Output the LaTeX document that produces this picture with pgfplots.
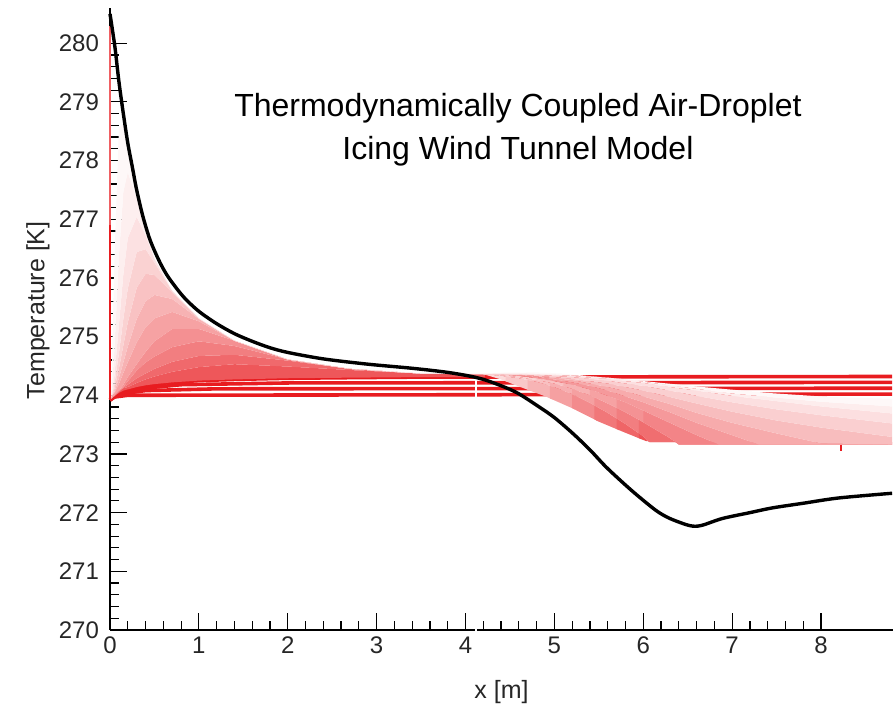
\documentclass[border=0pt]{standalone}
\usepackage{pgfplots}
\pgfplotsset{compat=1.18}
\usepgfplotslibrary{fillbetween}
\usepackage{fontspec}
\setmainfont{Liberation Sans}
\definecolor{dred}{RGB}{232,28,32}

\begin{document}
\begin{tikzpicture}
\begin{axis}[
    scale only axis,
    width=391.5pt, height=311pt,
    xmin=0, xmax=8.81,
    ymin=270, ymax=280.6,
    axis x line=bottom, axis y line=left,
    axis line style={-, line width=0.75pt},
    xtick={0,1,2,3,4,5,6,7,8},
    ytick={270,271,272,273,274,275,276,277,278,279,280},
    minor x tick num=4, minor y tick num=4,
    tick align=inside,
    major tick length=8.5pt, minor tick length=4.5pt,
    tick style={black, line width=0.6pt},
    ticklabel style={font=\fontsize{12}{14}\selectfont, text=black!85},
    yticklabel style={xshift=-2pt},
    /pgf/number format/assume math mode=true,
    /pgf/number format/1000 sep={},
    xlabel={x [m]}, ylabel={Temperature [K]},
    label style={font=\fontsize{12.5}{15}\selectfont, text=black!85},
    xlabel style={at={(axis description cs:0.5,-0.1)}, anchor=center},
    ylabel style={at={(axis description cs:-0.092,0.514)}, anchor=center},
    clip=false,
]

% deep red droplet lines
\addplot[dred, line width=1.8pt] coordinates {(0,273.92)(0.05,273.97)(0.2,274.0)(8.8,274.02)};
\addplot[dred, line width=1.8pt] coordinates {(0,273.92)(0.1,274.02)(0.4,274.08)(1.2,274.11)(8.8,274.12)};
\addplot[dred, line width=1.8pt] coordinates {(0,273.92)(0.1,274.03)(0.3,274.11)(0.8,274.18)(2,274.21)(8.8,274.22)};
\addplot[dred, line width=1.8pt, name path=l4] coordinates {(0,273.92)(0.02,273.95)(0.05,273.99)(0.1,274.04)(0.15,274.08)(0.2,274.10)(0.3,274.14)(0.4,274.17)(0.5,274.19)(0.7,274.22)(1.0,274.25)(1.4,274.27)(2.0,274.29)(2.7,274.30)(3.5,274.31)(8.8,274.32)};

% droplet family, darkest (c1) to lightest (c11)
\addplot[draw=none, name path=c1] coordinates {(0,273.92)(0.02,273.95)(0.05,273.99)(0.1,274.05)(0.15,274.12)(0.2,274.14)(0.3,274.21)(0.4,274.27)(0.5,274.32)(0.7,274.40)(1.0,274.48)(1.4,274.53)(2.0,274.49)(2.7,274.43)(3.5,274.37)(4.2,274.36)(4.4,274.27)(4.6,274.15)(4.9,273.98)(5.2,273.78)(5.5,273.55)(5.8,273.36)(6.03,273.22)(8.8,273.2)};
\addplot[draw=none, name path=c2] coordinates {(0,273.92)(0.02,273.95)(0.05,273.99)(0.1,274.05)(0.15,274.13)(0.2,274.18)(0.3,274.29)(0.4,274.37)(0.5,274.45)(0.7,274.57)(1.0,274.67)(1.4,274.69)(2.0,274.59)(2.7,274.45)(3.5,274.37)(4.2,274.36)(4.4,274.33)(4.6,274.29)(4.8,274.23)(5.0,274.14)(5.2,274.02)(5.4,273.87)(5.6,273.70)(5.8,273.51)(6.0,273.30)(6.07,273.2)(8.8,273.2)};
\addplot[draw=none, name path=c3] coordinates {(0,273.92)(0.02,273.95)(0.05,273.99)(0.1,274.06)(0.15,274.14)(0.2,274.24)(0.3,274.42)(0.4,274.56)(0.5,274.66)(0.7,274.82)(1.0,274.92)(1.4,274.84)(2.0,274.61)(2.7,274.45)(3.5,274.37)(4.2,274.36)(4.4,274.34)(4.6,274.31)(4.8,274.26)(5.0,274.20)(5.2,274.11)(5.4,274.0)(5.6,273.86)(5.8,273.71)(6.0,273.54)(6.3,273.27)(6.4,273.16)(8.8,273.16)};
\addplot[draw=none, name path=c4] coordinates {(0,273.92)(0.02,273.95)(0.05,273.99)(0.1,274.07)(0.15,274.18)(0.2,274.31)(0.3,274.53)(0.4,274.74)(0.5,274.92)(0.7,275.13)(1.0,275.13)(1.4,274.93)(2.0,274.61)(2.7,274.45)(3.5,274.37)(4.2,274.36)(4.4,274.35)(4.6,274.33)(4.8,274.29)(5.0,274.24)(5.2,274.18)(5.4,274.10)(5.6,273.99)(5.8,273.88)(6.0,273.74)(6.3,273.53)(6.6,273.32)(6.85,273.16)(8.8,273.16)};
\addplot[draw=none, name path=c5] coordinates {(0,273.92)(0.02,273.96)(0.05,274.04)(0.1,274.19)(0.15,274.38)(0.2,274.56)(0.3,274.90)(0.4,275.16)(0.5,275.31)(0.7,275.42)(1.0,275.26)(1.4,274.93)(2.0,274.61)(2.7,274.45)(3.5,274.37)(4.2,274.36)(4.4,274.35)(4.6,274.33)(4.8,274.31)(5.0,274.27)(5.2,274.22)(5.4,274.16)(5.6,274.08)(5.8,273.98)(6.0,273.88)(6.3,273.71)(6.6,273.53)(7.0,273.32)(7.3,273.16)(8.8,273.16)};
\addplot[draw=none, name path=c6] coordinates {(0,273.92)(0.02,273.96)(0.05,274.06)(0.1,274.29)(0.15,274.56)(0.2,274.83)(0.3,275.30)(0.4,275.60)(0.5,275.71)(0.7,275.64)(1.0,275.30)(1.4,274.93)(2.0,274.61)(2.7,274.45)(3.5,274.37)(4.2,274.36)(4.4,274.35)(4.6,274.34)(4.8,274.32)(5.0,274.29)(5.2,274.26)(5.4,274.20)(5.6,274.14)(5.8,274.07)(6.0,273.98)(6.3,273.85)(6.6,273.70)(7.0,273.53)(7.5,273.35)(8.0,273.18)(8.8,273.16)};
\addplot[draw=none, name path=c7] coordinates {(0,273.92)(0.02,273.97)(0.05,274.11)(0.1,274.45)(0.15,274.85)(0.2,275.24)(0.3,275.83)(0.4,276.07)(0.5,276.05)(0.7,275.75)(1.0,275.31)(1.4,274.93)(2.0,274.61)(2.7,274.45)(3.5,274.37)(4.2,274.36)(4.4,274.36)(4.6,274.35)(4.8,274.33)(5.0,274.31)(5.2,274.28)(5.4,274.24)(5.6,274.20)(5.8,274.14)(6.0,274.08)(6.3,273.97)(6.6,273.86)(7.0,273.72)(7.5,273.57)(8.0,273.45)(8.8,273.29)};
\addplot[draw=none, name path=c8] coordinates {(0,273.92)(0.02,273.98)(0.05,274.19)(0.1,274.71)(0.15,275.30)(0.2,275.82)(0.3,276.44)(0.4,276.49)(0.5,276.26)(0.7,275.78)(1.0,275.31)(1.4,274.93)(2.0,274.61)(2.7,274.45)(3.5,274.37)(4.2,274.36)(4.4,274.36)(4.6,274.36)(4.8,274.35)(5.0,274.33)(5.2,274.31)(5.4,274.28)(5.6,274.25)(5.8,274.20)(6.0,274.16)(6.3,274.08)(6.6,273.99)(7.0,273.88)(7.5,273.76)(8.0,273.66)(8.8,273.52)};
\addplot[draw=none, name path=c9] coordinates {(0,273.92)(0.02,274.01)(0.05,274.34)(0.1,275.19)(0.15,276.06)(0.2,276.68)(0.3,277.04)(0.4,276.73)(0.5,276.33)(0.7,275.78)(1.0,275.31)(1.4,274.93)(2.0,274.61)(2.7,274.45)(3.5,274.37)(4.2,274.36)(4.4,274.37)(4.6,274.37)(4.8,274.36)(5.0,274.35)(5.2,274.33)(5.4,274.30)(5.6,274.28)(5.8,274.24)(6.0,274.21)(6.3,274.14)(6.6,274.08)(7.0,273.99)(7.5,273.90)(8.0,273.81)(8.8,273.69)};
\addplot[draw=none, name path=c10] coordinates {(0,273.92)(0.02,274.10)(0.05,274.79)(0.1,276.36)(0.15,277.47)(0.2,277.80)(0.3,277.36)(0.4,276.78)(0.5,276.33)(0.7,275.78)(1.0,275.31)(1.4,274.93)(2.0,274.61)(2.7,274.45)(3.5,274.37)(4.2,274.37)(4.4,274.38)(4.6,274.38)(4.8,274.37)(5.0,274.36)(5.2,274.34)(5.4,274.32)(5.6,274.30)(5.8,274.27)(6.0,274.23)(6.3,274.17)(6.6,274.11)(7.0,274.03)(7.5,273.96)(8.0,273.89)(8.8,273.81)};
\addplot[draw=none, name path=c11] coordinates {(0,273.92)(0.02,274.44)(0.05,276.32)(0.1,278.56)(0.15,278.63)(0.2,278.18)(0.3,277.38)(0.4,276.78)(0.5,276.33)(0.7,275.78)(1.0,275.31)(1.4,274.93)(2.0,274.61)(2.7,274.45)(3.5,274.38)(4.2,274.38)(4.8,274.39)(5.1,274.37)(5.3,274.34)(5.95,274.25)(6.6,274.15)(7.4,274.04)(8.1,273.97)(8.8,273.94)};

% left part of the fan
\addplot[dred!74!white] fill between[of=l4 and c1, soft clip={domain=0:4.22}, on layer=main];
\addplot[dred!66!white] fill between[of=c1 and c2, soft clip={domain=0:4.22}, on layer=main];
\addplot[dred!57!white] fill between[of=c2 and c3, soft clip={domain=0:4.22}, on layer=main];
\addplot[dred!49!white] fill between[of=c3 and c4, soft clip={domain=0:4.22}, on layer=main];
\addplot[dred!41!white] fill between[of=c4 and c5, soft clip={domain=0:4.22}, on layer=main];
\addplot[dred!34!white] fill between[of=c5 and c6, soft clip={domain=0:4.22}, on layer=main];
\addplot[dred!27!white] fill between[of=c6 and c7, soft clip={domain=0:4.22}, on layer=main];
\addplot[dred!20!white] fill between[of=c7 and c8, soft clip={domain=0:4.22}, on layer=main];
\addplot[dred!13!white] fill between[of=c8 and c9, soft clip={domain=0:4.22}, on layer=main];
\addplot[dred!7!white] fill between[of=c9 and c10, soft clip={domain=0:4.22}, on layer=main];
\addplot[dred!3!white] fill between[of=c10 and c11, soft clip={domain=0:4.22}, on layer=main];
% right part of the fan: lighter near the top, darker towards the 273.2 K floor
\addplot[dred!16!white] fill between[of=c1 and c2, soft clip={domain=4.2:4.48}, on layer=main];
\addplot[dred!24!white] fill between[of=c1 and c2, soft clip={domain=4.45:4.73}, on layer=main];
\addplot[dred!33!white] fill between[of=c1 and c2, soft clip={domain=4.7:4.98}, on layer=main];
\addplot[dred!42!white] fill between[of=c1 and c2, soft clip={domain=4.95:5.23}, on layer=main];
\addplot[dred!51!white] fill between[of=c1 and c2, soft clip={domain=5.2:5.48}, on layer=main];
\addplot[dred!60!white] fill between[of=c1 and c2, soft clip={domain=5.45:5.73}, on layer=main];
\addplot[dred!68!white] fill between[of=c1 and c2, soft clip={domain=5.7:5.98}, on layer=main];
\addplot[dred!76!white] fill between[of=c1 and c2, soft clip={domain=5.95:8.8}, on layer=main];
\addplot[dred!14!white] fill between[of=c2 and c3, soft clip={domain=4.2:4.48}, on layer=main];
\addplot[dred!21!white] fill between[of=c2 and c3, soft clip={domain=4.45:4.73}, on layer=main];
\addplot[dred!28!white] fill between[of=c2 and c3, soft clip={domain=4.7:4.98}, on layer=main];
\addplot[dred!35!white] fill between[of=c2 and c3, soft clip={domain=4.95:5.23}, on layer=main];
\addplot[dred!42!white] fill between[of=c2 and c3, soft clip={domain=5.2:5.48}, on layer=main];
\addplot[dred!50!white] fill between[of=c2 and c3, soft clip={domain=5.45:5.73}, on layer=main];
\addplot[dred!57!white] fill between[of=c2 and c3, soft clip={domain=5.7:5.98}, on layer=main];
\addplot[dred!64!white] fill between[of=c2 and c3, soft clip={domain=5.95:8.8}, on layer=main];
\addplot[dred!13!white] fill between[of=c3 and c4, soft clip={domain=4.2:4.53}, on layer=main];
\addplot[dred!20!white] fill between[of=c3 and c4, soft clip={domain=4.5:4.83}, on layer=main];
\addplot[dred!27!white] fill between[of=c3 and c4, soft clip={domain=4.8:5.13}, on layer=main];
\addplot[dred!34!white] fill between[of=c3 and c4, soft clip={domain=5.1:5.43}, on layer=main];
\addplot[dred!41!white] fill between[of=c3 and c4, soft clip={domain=5.4:5.73}, on layer=main];
\addplot[dred!48!white] fill between[of=c3 and c4, soft clip={domain=5.7:6.03}, on layer=main];
\addplot[dred!54!white] fill between[of=c3 and c4, soft clip={domain=6.0:8.8}, on layer=main];
\addplot[dred!45!white] fill between[of=c4 and c5, soft clip={domain=4.2:8.8}, on layer=main];
\addplot[dred!37!white] fill between[of=c5 and c6, soft clip={domain=4.2:8.8}, on layer=main];
\addplot[dred!29!white] fill between[of=c6 and c7, soft clip={domain=4.2:8.8}, on layer=main];
\addplot[dred!21!white] fill between[of=c7 and c8, soft clip={domain=4.2:8.8}, on layer=main];
\addplot[dred!14!white] fill between[of=c8 and c9, soft clip={domain=4.2:8.8}, on layer=main];
\addplot[dred!8!white] fill between[of=c9 and c10, soft clip={domain=4.2:8.8}, on layer=main];
\addplot[dred!3!white] fill between[of=c10 and c11, soft clip={domain=4.2:8.8}, on layer=main];

% odd marks of the original
\addplot[white, line width=1.2pt] coordinates {(4.12,274.33)(4.12,269.5)};
\addplot[dred, line width=0.8pt] coordinates {(0,273.92)(0,276.9)};
\addplot[dred!70!white, line width=0.6pt] coordinates {(0,276.9)(0,280.3)};
\addplot[dred, line width=1pt] coordinates {(8.22,273.16)(8.22,273.05)};

% air temperature
\addplot[black, line width=1.7pt, smooth] coordinates {
(0,280.5)(0.03,280.2)(0.06,279.88)(0.1,279.35)(0.15,278.8)(0.2,278.3)(0.25,277.9)(0.3,277.5)(0.37,277.05)(0.45,276.65)(0.55,276.3)(0.64,276.05)(0.75,275.82)(0.85,275.64)(1.0,275.43)(1.2,275.22)(1.4,275.05)(1.6,274.92)(1.8,274.81)(2.0,274.73)(2.4,274.62)(2.9,274.53)(3.4,274.46)(3.8,274.39)(4.1,274.31)(4.3,274.22)(4.57,274.05)(4.83,273.8)(5.0,273.62)(5.2,273.36)(5.4,273.07)(5.58,272.78)(5.8,272.47)(5.96,272.26)(6.15,272.03)(6.3,271.9)(6.52,271.78)(6.65,271.78)(6.89,271.9)(7.2,272.0)(7.45,272.08)(7.8,272.16)(8.2,272.25)(8.8,272.33)};

\node[align=center, font=\fontsize{16}{21.5}\selectfont] at (axis cs:4.59,278.52) {Thermodynamically Coupled Air-Droplet\\Icing Wind Tunnel Model};
\end{axis}
\pgfresetboundingbox
\path (current axis.south west) ++(-55pt,-37.5pt) rectangle ++(447pt,352.5pt);
\end{tikzpicture}
\end{document}
